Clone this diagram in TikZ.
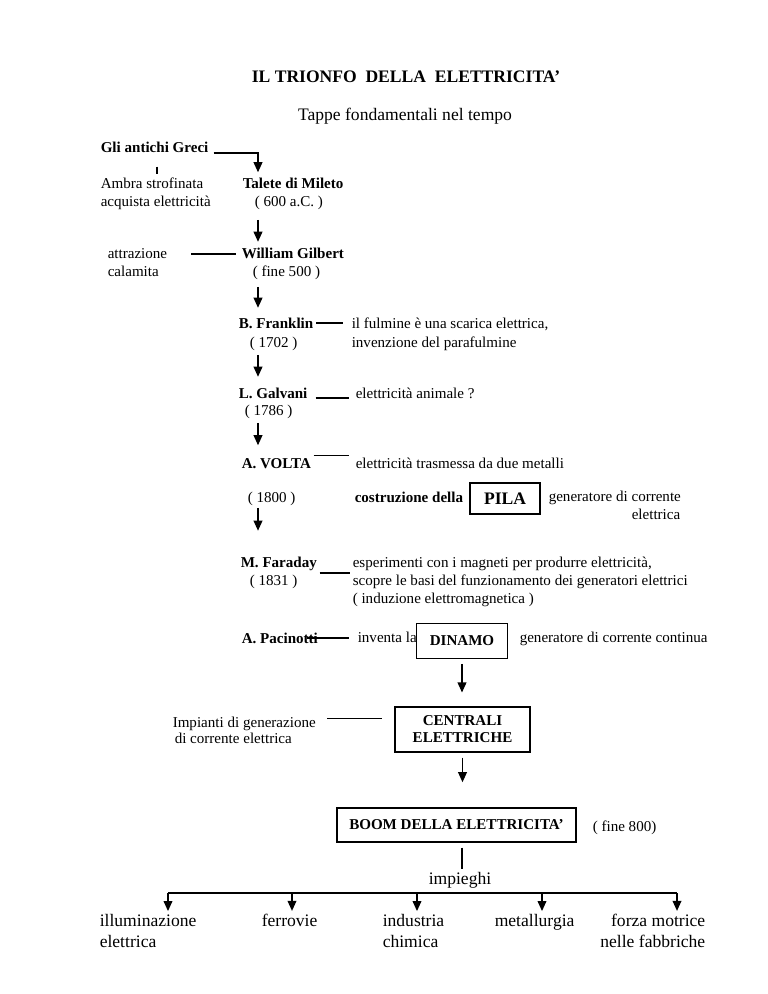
\documentclass[tikz,border=0pt]{standalone}
\usepackage{fontspec}
\setmainfont{Liberation Serif}
\usetikzlibrary{arrows.meta}

\begin{document}
\begin{tikzpicture}[x=0.796875pt,y=-0.796875pt,
  txt/.style={font=\fontsize{12}{14}\selectfont,inner sep=2pt,anchor=base west},
  bld/.style={txt,font=\fontsize{12}{14}\selectfont\bfseries},
  grande/.style={txt,font=\fontsize{14}{16.7}\selectfont},
  box/.style={draw,line width=1.1pt,inner sep=2pt,align=center,font=\fontsize{12}{13.5}\selectfont\bfseries},
  arr/.style={line width=1pt,-{Triangle[width=7pt,length=8pt]}},
  lin/.style={line width=1pt}]
\useasboundingbox (0,0) rectangle (768,994);

\node[grande,anchor=base,font=\fontsize{14}{16.7}\selectfont\bfseries] (titolo) at (406,83) {IL TRIONFO\ \ DELLA\ \ ELETTRICITA’};
\node[grande,anchor=base] (sottotitolo) at (405,121) {Tappe fondamentali nel tempo};

\coordinate (col) at (258,0);
\coordinate (tick) at (157,0);

\node[bld] (greci) at (98,153) {Gli antichi Greci};
\node[txt] (ambra) at (98,189) {Ambra strofinata};
\node[txt] (acquista) at (98,207) {acquista elettricità};
\node[bld] (talete) at (240,189) {Talete di Mileto};
\node[txt] (taletey) at (252,207) {( 600 a.C. )};
\node[txt] (attrazione) at (105,259) {attrazione};
\node[txt] (calamita) at (105,276) {calamita};
\node[bld] (gilbert) at (239,259) {William Gilbert};
\node[txt] (gilberty) at (250,276) {( fine 500 )};
\node[bld] (franklin) at (236,328) {B. Franklin};
\node[txt] (frankliny) at (247,347) {( 1702 )};
\node[txt] (fulmine) at (349,328) {il fulmine è una scarica elettrica,};
\node[txt] (parafulmine) at (349,347) {invenzione del parafulmine};
\node[bld] (galvani) at (236,398) {L. Galvani};
\node[txt] (galvaniy) at (242,415) {( 1786 )};
\node[txt] (animale) at (353,398) {elettricità animale ?};
\node[bld] (volta) at (239,468) {A. VOLTA};
\node[txt] (voltay) at (245,502) {( 1800 )};
\node[txt] (metalli) at (353,468) {elettricità trasmessa da due metalli};
\node[bld] (costruzione) at (352,502) {costruzione della};
\node[box,font=\fontsize{14}{16}\selectfont\bfseries,minimum width=55.8pt,minimum height=24.7pt] (pila) at (505,498.5) {PILA};
\node[txt] (gen1) at (546,501) {generatore di corrente};
\node[txt,anchor=base east] (gen2) at (683,519) {elettrica};
\node[bld] (faraday) at (238,567) {M. Faraday};
\node[txt] (faradayy) at (247,585) {( 1831 )};
\node[txt] (esperimenti) at (350,567) {esperimenti con i magneti per produrre elettricità,};
\node[txt] (scopre) at (350,585) {scopre le basi del funzionamento dei generatori elettrici};
\node[txt] (induzione) at (350,603) {( induzione elettromagnetica )};
\node[bld] (pacinotti) at (239,643) {A. Pacinotti};
\node[txt] (inventa) at (355,642) {inventa la};
\node[box,minimum width=72.5pt,minimum height=27.5pt] (dinamo) at (462,641) {DINAMO};
\node[txt] (continua) at (517,642) {generatore di corrente continua};
\node[box,minimum width=107.6pt,minimum height=35.9pt] (centrali) at (462.5,729.5) {CENTRALI\\ELETTRICHE};
\node[txt] (impianti) at (170,727) {Impianti di generazione};
\node[txt] (corrente) at (172,743) {di corrente elettrica};
\node[box,minimum width=190.5pt,minimum height=27.1pt] (boom) at (456.5,825) {BOOM DELLA ELETTRICITA’};
\node[txt] (fine) at (590,831) {( fine 800)};
\node[grande,anchor=base] (impieghi) at (460,884) {impieghi};

\node[grande] (illum) at (97,926) {illuminazione};
\node[grande] (illum2) at (97,947) {elettrica};
\node[grande] (ferrovie) at (259,926) {ferrovie};
\node[grande] (industria) at (380,926) {industria};
\node[grande] (chimica) at (380,947) {chimica};
\node[grande] (metallurgia) at (492,926) {metallurgia};
\node[grande,anchor=base east] (forza) at (708,926) {forza motrice};
\node[grande,anchor=base east] (fabbriche) at (708,947) {nelle fabbriche};

\draw[arr,shorten <=2pt,shorten >=2.8pt] (greci.base east) -| (talete.north -| col);
\draw[lin,line width=1.3pt,shorten <=8.5pt,shorten >=1.2pt] (greci.south -| tick) -- (ambra.north -| tick);
\draw[arr,shorten <=5.6pt,shorten >=3.2pt] (taletey.south -| col) -- (gilbert.north -| col);
\draw[lin,shorten <=17pt,shorten >=2pt] (attrazione.east) -- (attrazione.east -| gilbert.west);
\draw[arr,shorten <=4pt,shorten >=5.6pt] (gilberty.south -| col) -- (franklin.north -| col);
\draw[lin,shorten >=4.4pt] (franklin.east) -- (franklin.east -| fulmine.west);
\draw[arr,shorten <=1.6pt,shorten >=6.4pt] (frankliny.south -| col) -- (galvani.north -| col);
\draw[lin,shorten <=4.4pt,shorten >=2.8pt] (galvani.base east) -- (galvani.base east -| animale.west);
\draw[arr,shorten <=1.6pt,shorten >=8pt] (galvaniy.south -| col) -- (volta.north -| col);
\draw[lin,shorten >=2.8pt] (volta.north east) -- (volta.north east -| metalli.west);
\draw[arr,shorten >=18.4pt] (voltay.south -| col) -- (faraday.north -| col);
\draw[lin] (faraday.south east) -- (faraday.south east -| esperimenti.west);
\draw[lin,shorten >=5pt] ([xshift=-10.5pt]pacinotti.east) -- (pacinotti.east -| inventa.west);
\draw[arr,shorten <=4pt,shorten >=11pt] (dinamo.south) -- (dinamo.south |- centrali.north);
\draw[lin,shorten <=6.8pt,shorten >=9.6pt] ([yshift=4pt]impianti.east) -- ([yshift=4pt]impianti.east -| centrali.west);
\draw[arr,shorten <=4pt,shorten >=20pt] (centrali.south) -- (centrali.south |- boom.north);

\coordinate (hub) at (462,893);
\draw[lin,shorten <=4pt] (boom.south -| hub) -- (impieghi.north -| hub);
\foreach \n/\x in {1/168,2/292,3/417,4/542,5/677}
  \coordinate (d\n) at (\x,893);
\draw[lin] (d1) -- (d5);
\foreach \n/\dest in {1/illum,2/ferrovie,3/industria,4/metallurgia,5/forza}
  \draw[arr] (d\n) -- (d\n |- \dest.north);
\end{tikzpicture}
\end{document}
